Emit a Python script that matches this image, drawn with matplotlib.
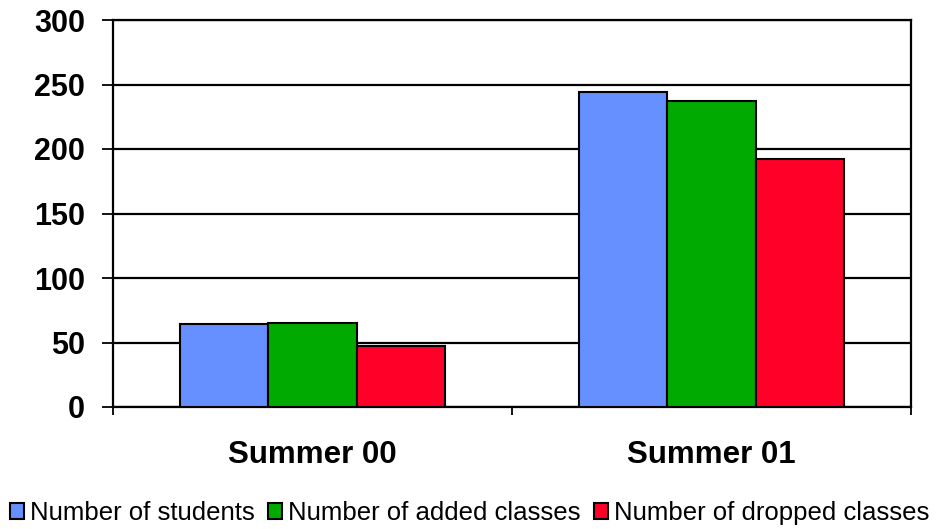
import numpy as np
import matplotlib
matplotlib.use("Agg")
import matplotlib.pyplot as plt

plt.rcParams['font.family'] = ['Liberation Sans', 'DejaVu Sans']

categories = ['Summer 00', 'Summer 01']
series_names = ['Number of students', 'Number of added classes', 'Number of dropped classes']
students = [64, 244]
added = [65, 237]
dropped = [47, 192]
colors = ['#6690FF', '#00AA00', '#FF0029']
yticks = [0, 50, 100, 150, 200, 250, 300]

fig = plt.figure(figsize=(9.39, 5.29), dpi=100)
ax = fig.add_axes([113 / 939, 1 - 407 / 529, (911 - 113) / 939, (407 - 20) / 529])

x = np.arange(len(categories))
w = 0.222
for i, (vals, c, name) in enumerate(zip([students, added, dropped], colors, series_names)):
    ax.bar(x + (i - 1) * w, vals, width=w, color=c, edgecolor='black',
           linewidth=1.5, label=name, zorder=3)

ax.set_xlim(-0.5, 1.5)
ax.set_ylim(0, 300)
ax.set_yticks(yticks)
ax.set_yticklabels([str(t) for t in yticks], fontsize=22, fontweight='bold')
ax.yaxis.grid(True, color='black', linewidth=1.6, zorder=0)
ax.set_axisbelow(True)

ax.set_xticks([-0.5, 0.5, 1.5])
ax.set_xticklabels([])
ax.set_xticks(x, minor=True)
ax.set_xticklabels(categories, minor=True, fontsize=22.5, fontweight='bold')
ax.tick_params(axis='x', which='minor', length=0, pad=24)
ax.tick_params(axis='x', which='major', length=6, width=1.3, direction='out')
ax.tick_params(axis='y', length=8, width=1.3, direction='out', pad=12)

for s in ax.spines.values():
    s.set_linewidth(1.6)
    s.set_color('black')

ax.legend(loc='center', bbox_to_anchor=(0.5, 1 - 513 / 529), bbox_transform=fig.transFigure,
          ncol=3, frameon=False, fontsize=18.5, handlelength=0.55, handleheight=0.55,
          handletextpad=0.25, columnspacing=0.5, borderpad=0)

fig.savefig('out.png', dpi=100)
